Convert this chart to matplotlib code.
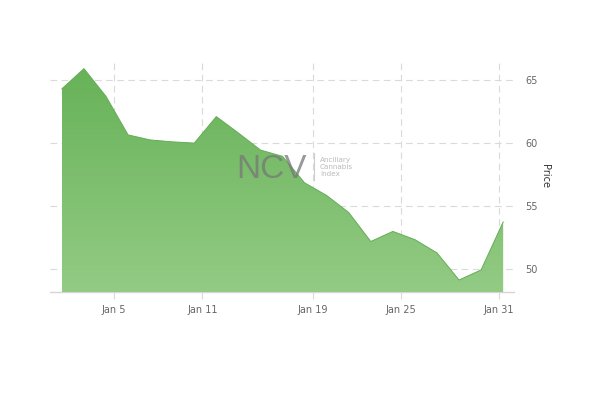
import numpy as np
import matplotlib
matplotlib.use("Agg")
import matplotlib.pyplot as plt

# Valores de cierre (dias habiles de enero)
dias = ["Jan 2", "Jan 3", "Jan 4", "Jan 5", "Jan 8", "Jan 9", "Jan 10", "Jan 11",
        "Jan 12", "Jan 16", "Jan 17", "Jan 18", "Jan 19", "Jan 22", "Jan 23",
        "Jan 24", "Jan 25", "Jan 26", "Jan 29", "Jan 30", "Jan 31"]
precios = [64.3, 65.9, 63.7, 60.65, 60.25, 60.1, 60.0, 62.1, 60.8, 59.45,
           58.95, 56.85, 55.85, 54.5, 52.2, 53.0, 52.35, 51.3, 49.15, 49.95, 53.75]

etiquetas_x = ["Jan 5", "Jan 11", "Jan 19", "Jan 25", "Jan 31"]
pos_x = [2.36, 6.36, 11.37, 15.37, 19.79]
ticks_y = [50, 55, 60, 65]

x = np.arange(len(precios))
y = np.array(precios)

fig = plt.figure(figsize=(6, 3.96), dpi=100)
ax = fig.add_axes([0.0833, 0.2626, 0.7737, 0.5784])

ymin, ymax = 48.2, 66.35

# Relleno con degradado
poly = ax.fill_between(x, y, ymin, color="none", zorder=3)
grad = np.linspace(0, 1, 256).reshape(-1, 1)
cmap = matplotlib.colors.LinearSegmentedColormap.from_list(
    "verde", ["#67b258", "#93cb84"])
img = ax.imshow(grad, aspect="auto", cmap=cmap, origin="upper",
                extent=[x[0], x[-1], ymin, y.max()], zorder=3)
img.set_clip_path(poly.get_paths()[0], transform=ax.transData)
ax.plot(x, y, color="#63ad54", linewidth=0.7, zorder=4)
ax.set_xlim(-0.54, 20.5)
ax.set_ylim(ymin, ymax)

# Cuadriculas
ax.set_xticks(pos_x)
ax.set_xticklabels(etiquetas_x)
ax.set_yticks(ticks_y)
ax.grid(True, linestyle=(0, (6, 4)), linewidth=0.8, color="#dadada", zorder=1)
ax.set_axisbelow(True)

for s in ["top", "left", "right"]:
    ax.spines[s].set_visible(False)
ax.spines["bottom"].set_color("#d6d6d6")
ax.spines["bottom"].set_linewidth(1.0)

ax.yaxis.tick_right()
ax.tick_params(axis="y", length=0, pad=8, labelsize=7, labelcolor="#666666")
ax.tick_params(axis="x", length=5, color="#dadada", pad=4, labelsize=7,
               labelcolor="#666666")

fig.text(0.908, 0.555, "Price", rotation=270, fontsize=7, color="#333333",
         ha="center", va="center")

# Marca de agua
fig.text(0.393, 0.573, "NCV", fontsize=24, color="#777777", alpha=0.75,
         family="Liberation Sans", ha="left", va="center", zorder=10)
fig.add_artist(plt.Line2D([0.523, 0.523], [0.545, 0.614], color="#cccccc",
                          linewidth=0.8, transform=fig.transFigure, zorder=10))
fig.text(0.533, 0.578, "Ancillary\nCannabis\nIndex", fontsize=5.2,
         color="#bbbbbb", ha="left", va="center", linespacing=1.25, zorder=10)

fig.savefig("out.png", dpi=100)
